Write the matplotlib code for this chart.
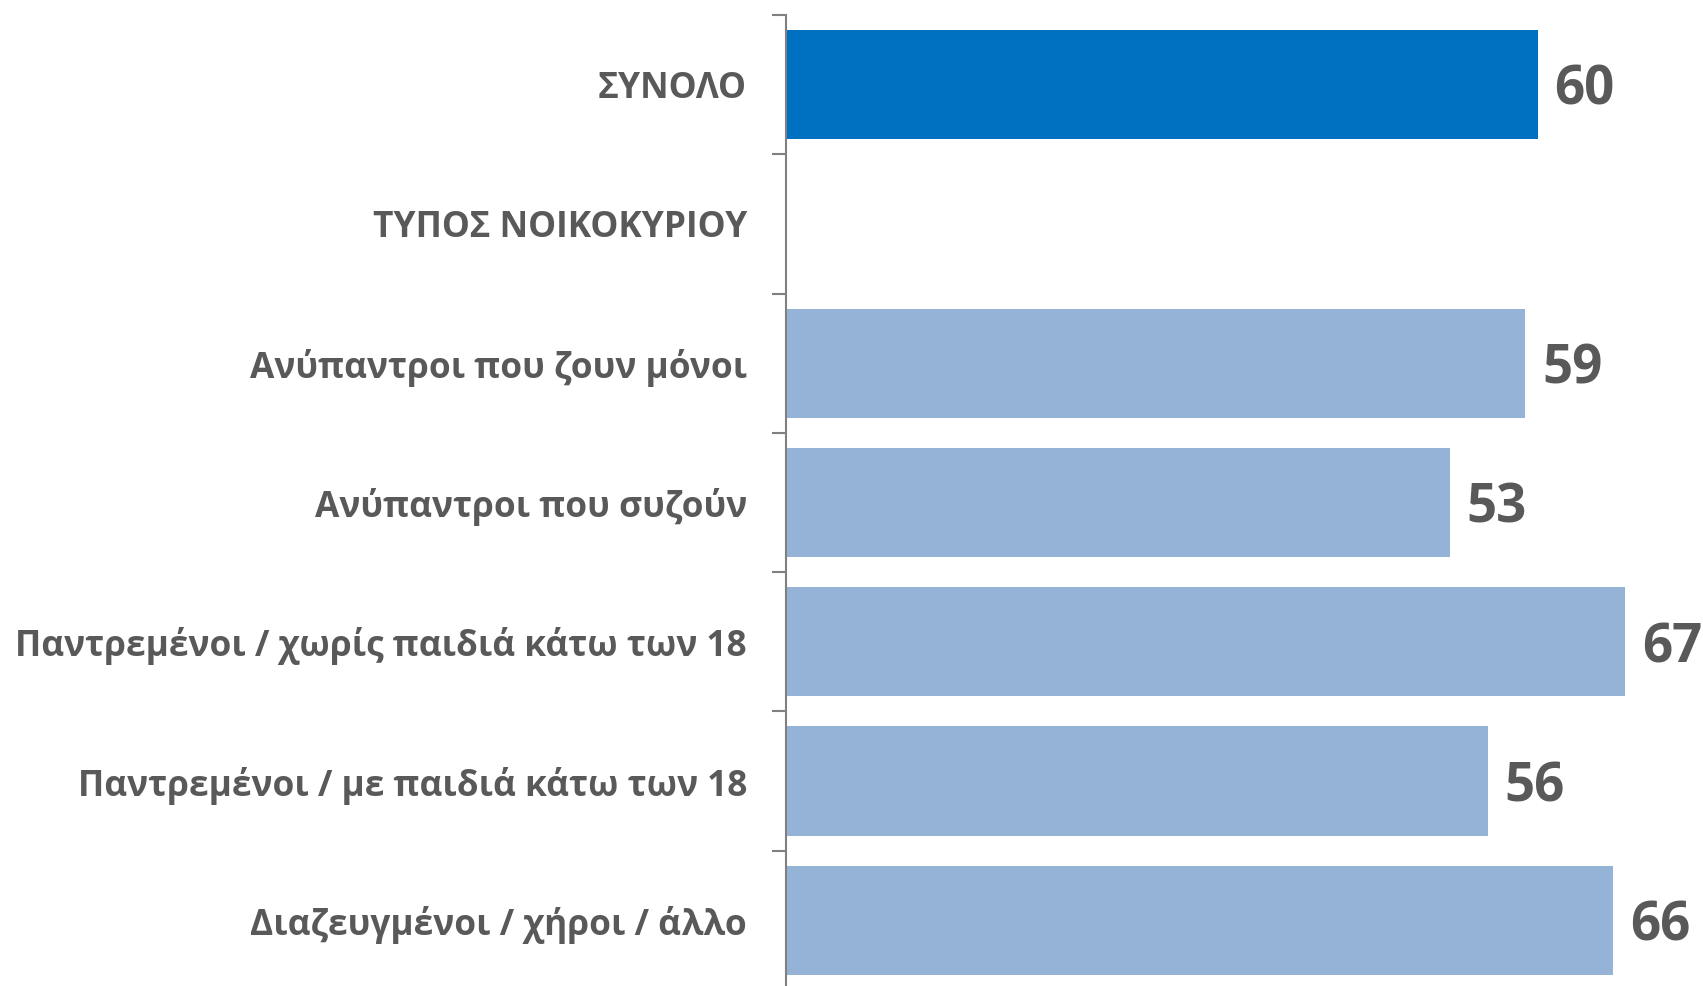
import matplotlib.pyplot as plt
import numpy as np

# categories and values (None = header row, no bar)
categories = ["ΣΥΝΟΛΟ", "ΤΥΠΟΣ ΝΟΙΚΟΚΥΡΙΟΥ", "Ανύπαντροι που ζουν μόνοι",
              "Ανύπαντροι που συζούν", "Παντρεμένοι / χωρίς παιδιά κάτω των 18",
              "Παντρεμένοι / με παιδιά κάτω των 18", "Διαζευγμένοι / χήροι / άλλο"]
values = [60, None, 59, 53, 67, 56, 66]
bar_colors = ["#0070C0", None, "#95B3D7", "#95B3D7", "#95B3D7", "#95B3D7", "#95B3D7"]

text_color = "#595959"

fig = plt.figure(figsize=(17.03, 9.86), dpi=100)
# axis runs a few pixels past the bottom edge, as in the original
ax = fig.add_axes([786 / 1703, -4 / 986, 1 - 786 / 1703, (986 - 15 + 4) / 986])

y = np.arange(len(categories))
for yi, v, c in zip(y, values, bar_colors):
    if v is None:
        continue
    ax.barh(yi, v, height=0.785, color=c)
    ax.text(v + 1.35, yi + 0.045, str(v), va="center", ha="left", fontsize=38,
            fontweight="bold", color=text_color, family="Open Sans")

ax.set_xlim(0, 73.2)
ax.set_ylim(len(categories) - 0.5, -0.5)

ax.set_yticks(y)
ax.set_yticklabels(categories, fontsize=25.4, fontweight="bold", color=text_color,
                   family="Open Sans")
ax.tick_params(axis="y", which="major", length=0, pad=28)
ax.set_yticks(np.arange(len(categories) + 1) - 0.5, minor=True)
ax.tick_params(axis="y", which="minor", length=10, width=1.5, color="#808080",
               direction="out")

ax.set_xticks([])
for s in ["top", "right", "bottom"]:
    ax.spines[s].set_visible(False)
ax.spines["left"].set_color("#808080")
ax.spines["left"].set_linewidth(1.5)

fig.savefig("out.png", dpi=100)
